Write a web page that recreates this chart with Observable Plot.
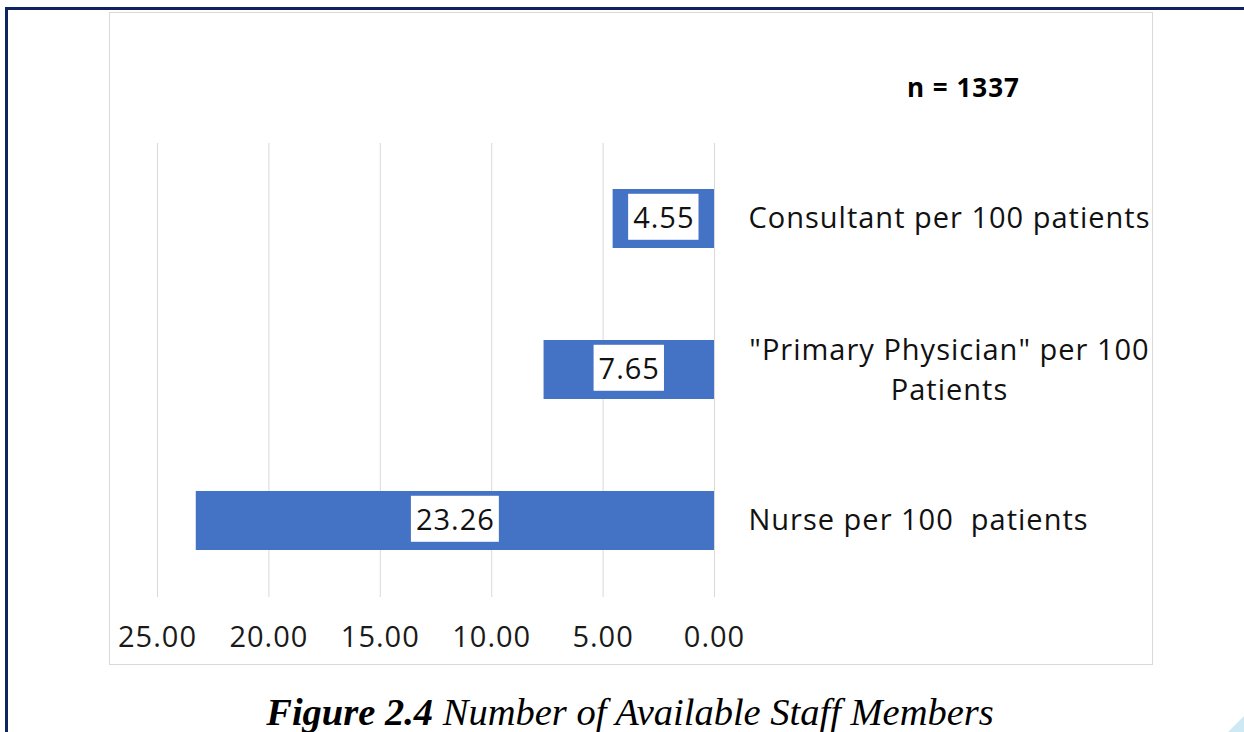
<!DOCTYPE html>
<html>
<head>
<meta charset="utf-8">
<script src="https://cdn.jsdelivr.net/npm/d3@7"></script>
<script src="https://cdn.jsdelivr.net/npm/@observablehq/plot@0.6"></script>
<style>
  html, body { margin: 0; padding: 0; background: #fff; width: 1244px; height: 732px; overflow: hidden; }
  #frame { position: absolute; left: 5px; top: 7px; width: 1239px; height: 740px; border-left: 3px solid #0d2461; border-top: 3px solid #0d2461; box-sizing: border-box; }
  #box { position: absolute; left: 109px; top: 12px; width: 1044px; height: 653px; border: 1px solid #d9d9d9; box-sizing: border-box; background: #fff; }
  #chart { position: absolute; left: 110px; top: 13px; }
  #n { position: absolute; left: 907px; top: 69px; font-family: "Open Sans", sans-serif; font-weight: 700; font-size: 26px; color: #000; white-space: nowrap; letter-spacing: 1px; }
  #caption { position: absolute; left: 0; width: 1260px; top: 690px; text-align: center; font-family: "Liberation Serif", serif; font-style: italic; font-size: 38.5px; color: #000; white-space: nowrap; }
  #tri { position: absolute; right: 0; bottom: 0; width: 16px; height: 16px; background: #cfe9f2; clip-path: polygon(100% 0, 100% 100%, 0 100%); }
</style>
</head>
<body>
<div id="frame"></div>
<div id="box"></div>
<div id="chart"></div>
<div id="n">n = 1337</div>
<div id="caption"><b>Figure 2.4</b> Number of Available Staff Members</div>
<div id="tri"></div>
<script>
const categories = ["Consultant per 100 patients", "\"Primary Physician\" per 100\nPatients", "Nurse per 100  patients"];
const values = [4.55, 7.65, 23.26];
const xTicks = [0, 5, 10, 15, 20, 25];

const rows = categories.map((c, i) => ({category: c, value: values[i], wrapped: c.includes("\n")}));
const font = "'Open Sans', sans-serif";

const chart = Plot.plot({
  width: 1042,
  height: 650,
  marginLeft: 47,
  marginRight: 438,
  marginTop: 130,
  marginBottom: 66,
  style: {fontFamily: font, fontSize: "29px", color: "#1a1a1a", background: "transparent", letterSpacing: "1px"},
  x: {domain: [0, 25], reverse: true},
  y: {domain: categories, paddingInner: 0.609, paddingOuter: 0.304, axis: null},
  marks: [
    Plot.ruleX(xTicks, {stroke: "#d9d9d9", strokeWidth: 1}),
    Plot.barX(rows, {x: "value", y: "category", fill: "#4472c4"}),
    Plot.axisX({ticks: xTicks, tickFormat: d3.format(".2f"), tickSize: 0, tickPadding: 29, fontSize: 29, label: null}),
    Plot.text(rows, {x: d => d.value / 2, y: "category", text: d => d.value.toFixed(2), fontSize: 29, fill: "#111", ariaDescription: "value-labels"}),
    Plot.text(rows.filter(d => !d.wrapped), {y: "category", text: "category", frameAnchor: "right", textAnchor: "start", dx: 34, fontSize: 29, fill: "#111"}),
    Plot.text(rows.filter(d => d.wrapped), {y: "category", text: "category", frameAnchor: "right", textAnchor: "middle", dx: 235, dy: -3, lineHeight: 1.38, fontSize: 29, fill: "#111"})
  ]
});
document.getElementById("chart").appendChild(chart);

// white boxes behind value labels
const g = chart.querySelector('g[aria-description="value-labels"]');
if (g) {
  g.querySelectorAll("text").forEach(t => {
    const b = t.getBBox();
    const r = document.createElementNS("http://www.w3.org/2000/svg", "rect");
    const cy = b.y + b.height / 2;
    r.setAttribute("x", b.x - 5);
    r.setAttribute("width", b.width + 9);
    r.setAttribute("y", cy - 23);
    r.setAttribute("height", 46);
    r.setAttribute("fill", "#fff");
    if (t.getAttribute("transform")) r.setAttribute("transform", t.getAttribute("transform"));
    t.parentNode.insertBefore(r, t);
  });
}
</script>
</body>
</html>
